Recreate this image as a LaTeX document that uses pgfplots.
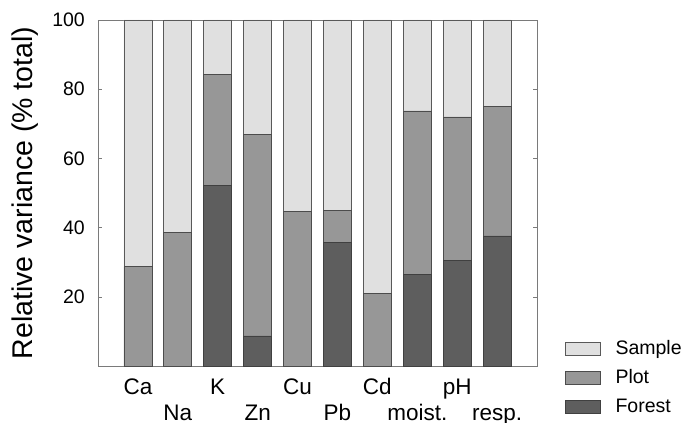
\documentclass[border=0pt]{standalone}
\usepackage{fontspec}
\setmainfont{Liberation Sans}
\usepackage{pgfplots}
\pgfplotsset{compat=1.18}
\definecolor{sample}{HTML}{E0E0E0}
\definecolor{plotc}{HTML}{979797}
\definecolor{forest}{HTML}{5E5E5E}
\definecolor{frame}{HTML}{7A7A7A}

\begin{document}
\begin{tikzpicture}
\path[use as bounding box] (-98bp,-57bp) rectangle (587bp,366bp);
\begin{axis}[
  at={(0,0)}, anchor=south west,
  scale only axis, width=439bp, height=346bp,
  xmin=0, xmax=11, ymin=0, ymax=100,
  ybar stacked, bar width=0.7,
  xtick={1,...,10},
  xticklabels={Ca,\raisebox{-26bp}{Na},K,\raisebox{-26bp}{Zn},Cu,\raisebox{-26bp}{Pb},Cd,\raisebox{-26bp}{moist.},pH,\raisebox{-26bp}{resp.}},
  ytick={20,40,60,80,100},
  tick align=inside, major tick length=4bp,
  tick style={frame, line width=0.6bp},
  axis line style={frame, line width=0.9bp},
  /pgf/number format/assume math mode=true,
  xticklabel style={font=\fontsize{22.5bp}{26bp}\selectfont,
    inner sep=0pt, text height=16bp, text depth=0pt, yshift=-12bp},
  yticklabel style={font=\fontsize{19.5bp}{23bp}\selectfont,
    inner sep=1.5bp, xshift=-11.5bp},
  ylabel={Relative variance (\% total)},
  every axis y label/.style={at={(axis description cs:-0.166,0.5)}, rotate=90, anchor=center,
    font=\fontsize{28.5bp}{32bp}\selectfont},
  legend style={draw=none, fill=none, at={(1.0638,0.084)}, anchor=north west,
    font=\fontsize{19.5bp}{23bp}\selectfont, inner sep=0pt, row sep=6bp,
    nodes={inner sep=2bp, text height=15bp, text depth=4bp}},
  legend cell align=left,
  reverse legend,
  legend image code/.code={\draw[#1] (0bp,-6.75bp) rectangle (35bp,6.75bp);
    \path[draw=none, fill=none] (35bp,0bp) -- (48bp,0bp);},
]
% Forest (bottom)
\addplot[fill=forest, draw=black!75, line width=0.7bp] coordinates {
  (1,0) (2,0) (3,52.2) (4,8.7) (5,0) (6,35.6) (7,0) (8,26.5) (9,30.6) (10,37.6)};
\addlegendentry{Forest}
% Plot
\addplot[fill=plotc, draw=black!70, line width=0.7bp] coordinates {
  (1,28.7) (2,38.5) (3,32.0) (4,58.3) (5,44.6) (6,9.4) (7,21.0) (8,47.2) (9,41.4) (10,37.5)};
\addlegendentry{Plot}
% Sample (top)
\addplot[fill=sample, draw=black!65, line width=0.7bp] coordinates {
  (1,71.3) (2,61.5) (3,15.8) (4,33.0) (5,55.4) (6,55.0) (7,79.0) (8,26.3) (9,28.0) (10,24.9)};
\addlegendentry{Sample}
\end{axis}
\end{tikzpicture}
\end{document}
